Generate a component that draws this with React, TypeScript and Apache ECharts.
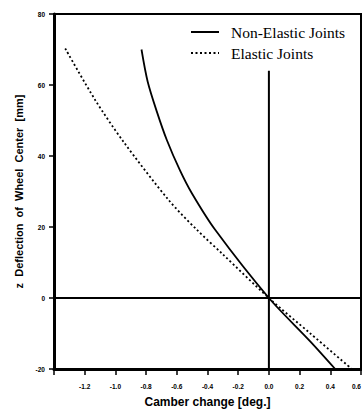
import React, { useEffect, useRef } from "react";
import * as echarts from "echarts";

// Non-Elastic Joints (solid): [camber change deg, z deflection mm]
const nonElasticX = [-0.83, -0.79, -0.73, -0.665, -0.58, -0.502, -0.35, 0, 0.269, 0.432];
const nonElasticY = [70, 61, 52.5, 44.5, 36, 29.5, 19.2, 0, -12.2, -20];

// Elastic Joints (dotted)
const elasticX = [-1.327, -1.132, -0.947, -0.653, -0.469, -0.3, 0, 0.27, 0.54];
const elasticY = [70.3, 55.8, 44, 27.6, 19.2, 12.3, 0, -10, -20];

// Reference lines
const zeroVerticalX = [0, 0];
const zeroVerticalY = [-20, 64];
const zeroHorizontalX = [-1.4, 0.6];
const zeroHorizontalY = [0, 0];

const xMin = -1.4, xMax = 0.6, xStep = 0.2;
const yMin = -20, yMax = 80, yStep = 20;

const zip = (xs: number[], ys: number[]) => xs.map((x, i) => [x, ys[i]]);

export default function App() {
  const ref = useRef<HTMLDivElement>(null);
  useEffect(() => {
    if (!ref.current) return;
    const chart = echarts.init(ref.current, null, { renderer: "svg" });
    const tickFont = { fontFamily: "Liberation Sans", fontWeight: "bold" as const, fontSize: 6.5, color: "#000" };
    chart.setOption({
      animation: false,
      backgroundColor: "#fff",
      grid: {
        left: 54, top: 14, right: 1, bottom: 40,
        outerBoundsMode: "none",
        containLabel: false,
        show: true, borderColor: "#000", borderWidth: 2, backgroundColor: "transparent",
      },
      legend: {
        data: ["Non-Elastic Joints", "Elastic Joints"],
        orient: "vertical",
        left: 185,
        top: 19,
        itemWidth: 28,
        itemHeight: 16,
        itemGap: 5,
        itemStyle: { opacity: 0 },
        textStyle: { fontFamily: "Liberation Serif", fontSize: 15.5, color: "#000", padding: [0, 0, 0, 7] },
      },
      xAxis: {
        type: "value",
        min: xMin,
        max: xMax,
        interval: xStep,
        name: "Camber change [deg.]",
        nameLocation: "middle",
        nameGap: 27,
        nameTextStyle: { fontFamily: "Liberation Sans", fontWeight: "bold", fontSize: 12, color: "#000" },
        axisLine: { show: true, onZero: false, lineStyle: { color: "#000", width: 3 } },
        axisTick: { show: true, length: 6, lineStyle: { color: "#000", width: 1.5 } },
        axisLabel: {
          ...tickFont,
          margin: 14,
          alignMaxLabel: "right",
          formatter: (v: number) => (Math.abs(v - xMin) < 1e-6 ? "" : v.toFixed(1)),
        },
        splitLine: { show: false },
      },
      yAxis: {
        type: "value",
        min: yMin,
        max: yMax,
        interval: yStep,
        name: "z  Deflection  of  Wheel  Center  [mm]",
        nameLocation: "middle",
        nameRotate: 90,
        nameGap: 30,
        nameTextStyle: { fontFamily: "Liberation Sans", fontWeight: "bold", fontSize: 11, color: "#000" },
        axisLine: { show: true, onZero: false, lineStyle: { color: "#000", width: 3 } },
        axisTick: { show: true, length: 5, lineStyle: { color: "#000", width: 1.5 } },
        axisLabel: { ...tickFont, margin: 9 },
        splitLine: { show: false },
      },
      series: [
        {
          name: "Non-Elastic Joints",
          type: "line",
          data: zip(nonElasticX, nonElasticY),
          smooth: 0.3,
          symbol: "none",
          lineStyle: { color: "#000", width: 1.8, type: "solid" },
          itemStyle: { color: "#000" },
        },
        {
          name: "Elastic Joints",
          type: "line",
          data: zip(elasticX, elasticY),
          smooth: 0.3,
          symbol: "none",
          lineStyle: { color: "#000", width: 1.8, type: [2, 2.5] },
          itemStyle: { color: "#000" },
        },
        {
          name: "zeroV",
          type: "line",
          data: zip(zeroVerticalX, zeroVerticalY),
          symbol: "none",
          silent: true,
          lineStyle: { color: "#000", width: 2 },
        },
        {
          name: "zeroH",
          type: "line",
          data: zip(zeroHorizontalX, zeroHorizontalY),
          symbol: "none",
          silent: true,
          lineStyle: { color: "#000", width: 2 },
        },
      ],
    });
    return () => chart.dispose();
  }, []);
  return <div ref={ref} style={{ position: "absolute", left: 0, top: 0, width: 362, height: 409 }} />;
}
